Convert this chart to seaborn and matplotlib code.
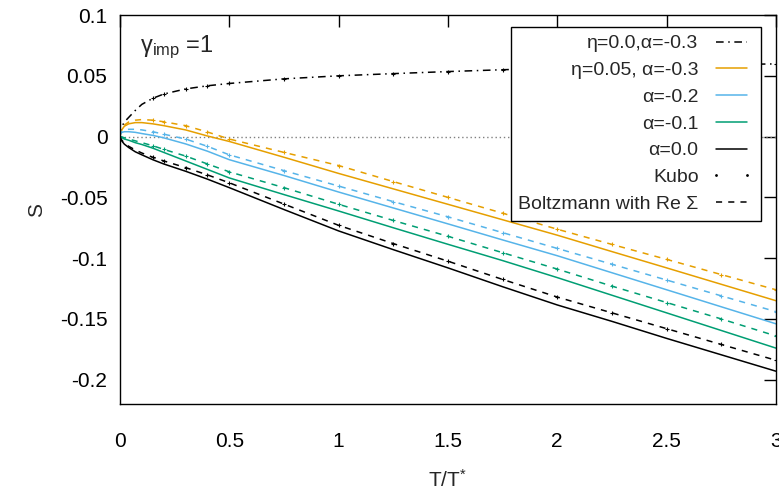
import numpy as np
import matplotlib
matplotlib.use("Agg")
import matplotlib.pyplot as plt
from matplotlib.lines import Line2D
import seaborn as sns

T = [0.0, 0.003, 0.01, 0.02, 0.04, 0.07, 0.1, 0.15, 0.2, 0.3, 0.4, 0.5,
     0.75, 1.0, 1.25, 1.5, 1.75, 2.0, 2.25, 2.5, 2.75, 3.0]

# eta = 0.0, alpha = -0.3 (dash-dot)
S_eta0_a03 = [0.0, 0.005, 0.0085, 0.012, 0.0158, 0.0215, 0.0265, 0.0315, 0.035, 0.0392, 0.0418, 0.0437,
              0.0475, 0.050, 0.0518, 0.0535, 0.055, 0.0563, 0.0575, 0.0585, 0.0592, 0.0598]

# solid lines
S_eta05_a03 = [0.0, 0.003, 0.006, 0.0085, 0.0105, 0.0115, 0.0115, 0.0105, 0.009, 0.0055, 0.0005, -0.004,
               -0.017, -0.0303, -0.043, -0.0557, -0.0684, -0.0811, -0.0946, -0.108, -0.1215, -0.135]
S_a02 = [0.0, 0.0025, 0.0035, 0.004, 0.004, 0.0035, 0.0025, 0.001, -0.001, -0.006, -0.012, -0.019,
         -0.032, -0.0456, -0.0587, -0.0718, -0.085, -0.098, -0.112, -0.126, -0.140, -0.154]
S_a01 = [0.0, -0.0003, -0.001, -0.002, -0.003, -0.005, -0.0065, -0.0095, -0.013, -0.020, -0.027, -0.034,
         -0.0477, -0.0612, -0.075, -0.0886, -0.102, -0.116, -0.1305, -0.145, -0.1595, -0.174]
S_a00 = [0.0, -0.002, -0.004, -0.0062, -0.009, -0.0125, -0.015, -0.019, -0.0225, -0.0285, -0.035, -0.042,
         -0.060, -0.0776, -0.093, -0.108, -0.1235, -0.1385, -0.152, -0.166, -0.1795, -0.193]

# Boltzmann with Re Sigma (dashed), Kubo points sit on them
B_eta05_a03 = [0.0, 0.0035, 0.007, 0.0095, 0.012, 0.0135, 0.014, 0.0135, 0.0122, 0.009, 0.0038, -0.002,
               -0.013, -0.0238, -0.037, -0.050, -0.063, -0.0762, -0.0887, -0.101, -0.1135, -0.126]
B_a02 = [0.0, 0.003, 0.0045, 0.0055, 0.006, 0.006, 0.0055, 0.004, 0.002, -0.002, -0.008, -0.015,
         -0.028, -0.0407, -0.0535, -0.066, -0.079, -0.092, -0.105, -0.118, -0.131, -0.144]
B_a01 = [0.0, 0.0, -0.0003, -0.001, -0.002, -0.0035, -0.005, -0.0075, -0.0105, -0.016, -0.0225, -0.029,
         -0.042, -0.0557, -0.069, -0.082, -0.0955, -0.109, -0.123, -0.1365, -0.150, -0.164]
B_a00 = [0.0, -0.0015, -0.0033, -0.0053, -0.008, -0.011, -0.0135, -0.017, -0.020, -0.0255, -0.0315, -0.038,
         -0.0555, -0.073, -0.088, -0.1025, -0.1175, -0.132, -0.145, -0.158, -0.171, -0.184]

labels = ["η=0.0,α=-0.3", "η=0.05, α=-0.3", "α=-0.2", "α=-0.1", "α=0.0",
          "Kubo", "Boltzmann with Re Σ"]
xticks = [0, 0.5, 1, 1.5, 2, 2.5, 3]
yticks = [-0.2, -0.15, -0.1, -0.05, 0, 0.05, 0.1]

c_orange = "#E69F00"
c_blue = "#56B4E9"
c_green = "#009E73"
c_black = "black"

# ——— Style ———
sns.set_style("white")
plt.rcParams["font.family"] = ["Liberation Sans", "DejaVu Sans"]
plt.rcParams["mathtext.default"] = "regular"

fig = plt.figure(figsize=(7.79, 4.93), dpi=100)
ax = fig.add_axes([0.154, 0.1805, 0.842, 0.789])

lw = 1.1
dash = (0, (4, 4))
dashdot = (0, (5, 3, 1, 3))


def kubo(c):
    # Kubo points drawn as small crosses on the Boltzmann curves
    return dict(marker="+", markersize=3.5, markeredgewidth=0.8,
                markeredgecolor=c, markevery=slice(7, None))


ax.axhline(0, color="grey", lw=1.0, ls=(0, (1, 2)), zorder=1)

sns.lineplot(x=T, y=S_eta0_a03, ax=ax, color=c_black, lw=lw, ls=dashdot,
             estimator=None, sort=False, **kubo(c_black))

for S, B, c in [(S_eta05_a03, B_eta05_a03, c_orange),
                (S_a02, B_a02, c_blue),
                (S_a01, B_a01, c_green),
                (S_a00, B_a00, c_black)]:
    sns.lineplot(x=T, y=S, ax=ax, color=c, lw=lw, estimator=None, sort=False)
    sns.lineplot(x=T, y=B, ax=ax, color=c, lw=lw, ls=dash,
                 estimator=None, sort=False, **kubo(c))

ax.set_xlim(0, 3)
ax.set_ylim(-0.22, 0.1)
ax.set_xticks(xticks)
ax.set_xticklabels([f"{v:g}" for v in xticks])
ax.set_yticks(yticks)
ax.set_yticklabels([f"{v:g}" for v in yticks])
ax.tick_params(direction="in", length=8.5, width=1, top=True, right=True,
               labelsize=15, colors="black")
ax.tick_params(axis="x", pad=20)
ax.tick_params(axis="y", pad=9)
for sp in ax.spines.values():
    sp.set_color("black")
    sp.set_linewidth(1.0)

ax.set_xlabel("T/T$^{*}$", fontsize=15, labelpad=13)
ax.set_ylabel("S", fontsize=15, labelpad=10)

ax.text(0.03, 0.918, "γ$_{imp}$ =1", transform=ax.transAxes, fontsize=17,
        va="center", ha="left")

handles = [
    Line2D([], [], color=c_black, lw=lw, ls=dashdot),
    Line2D([], [], color=c_orange, lw=lw),
    Line2D([], [], color=c_blue, lw=lw),
    Line2D([], [], color=c_green, lw=lw),
    Line2D([], [], color=c_black, lw=lw),
    Line2D([], [], color=c_black, ls="none", marker=".", markersize=2),
    Line2D([], [], color=c_black, lw=lw, ls=dash),
]
leg = ax.legend(handles, labels, loc="upper right", bbox_to_anchor=(0.977, 0.969),
                borderaxespad=0, markerfirst=False, fancybox=False, framealpha=1,
                edgecolor="black", fontsize=14, numpoints=2, handlelength=2.2,
                labelspacing=0.47, borderpad=0.4, handletextpad=0.6)
leg.get_frame().set_linewidth(1.0)

fig.savefig("out.png", dpi=100)
